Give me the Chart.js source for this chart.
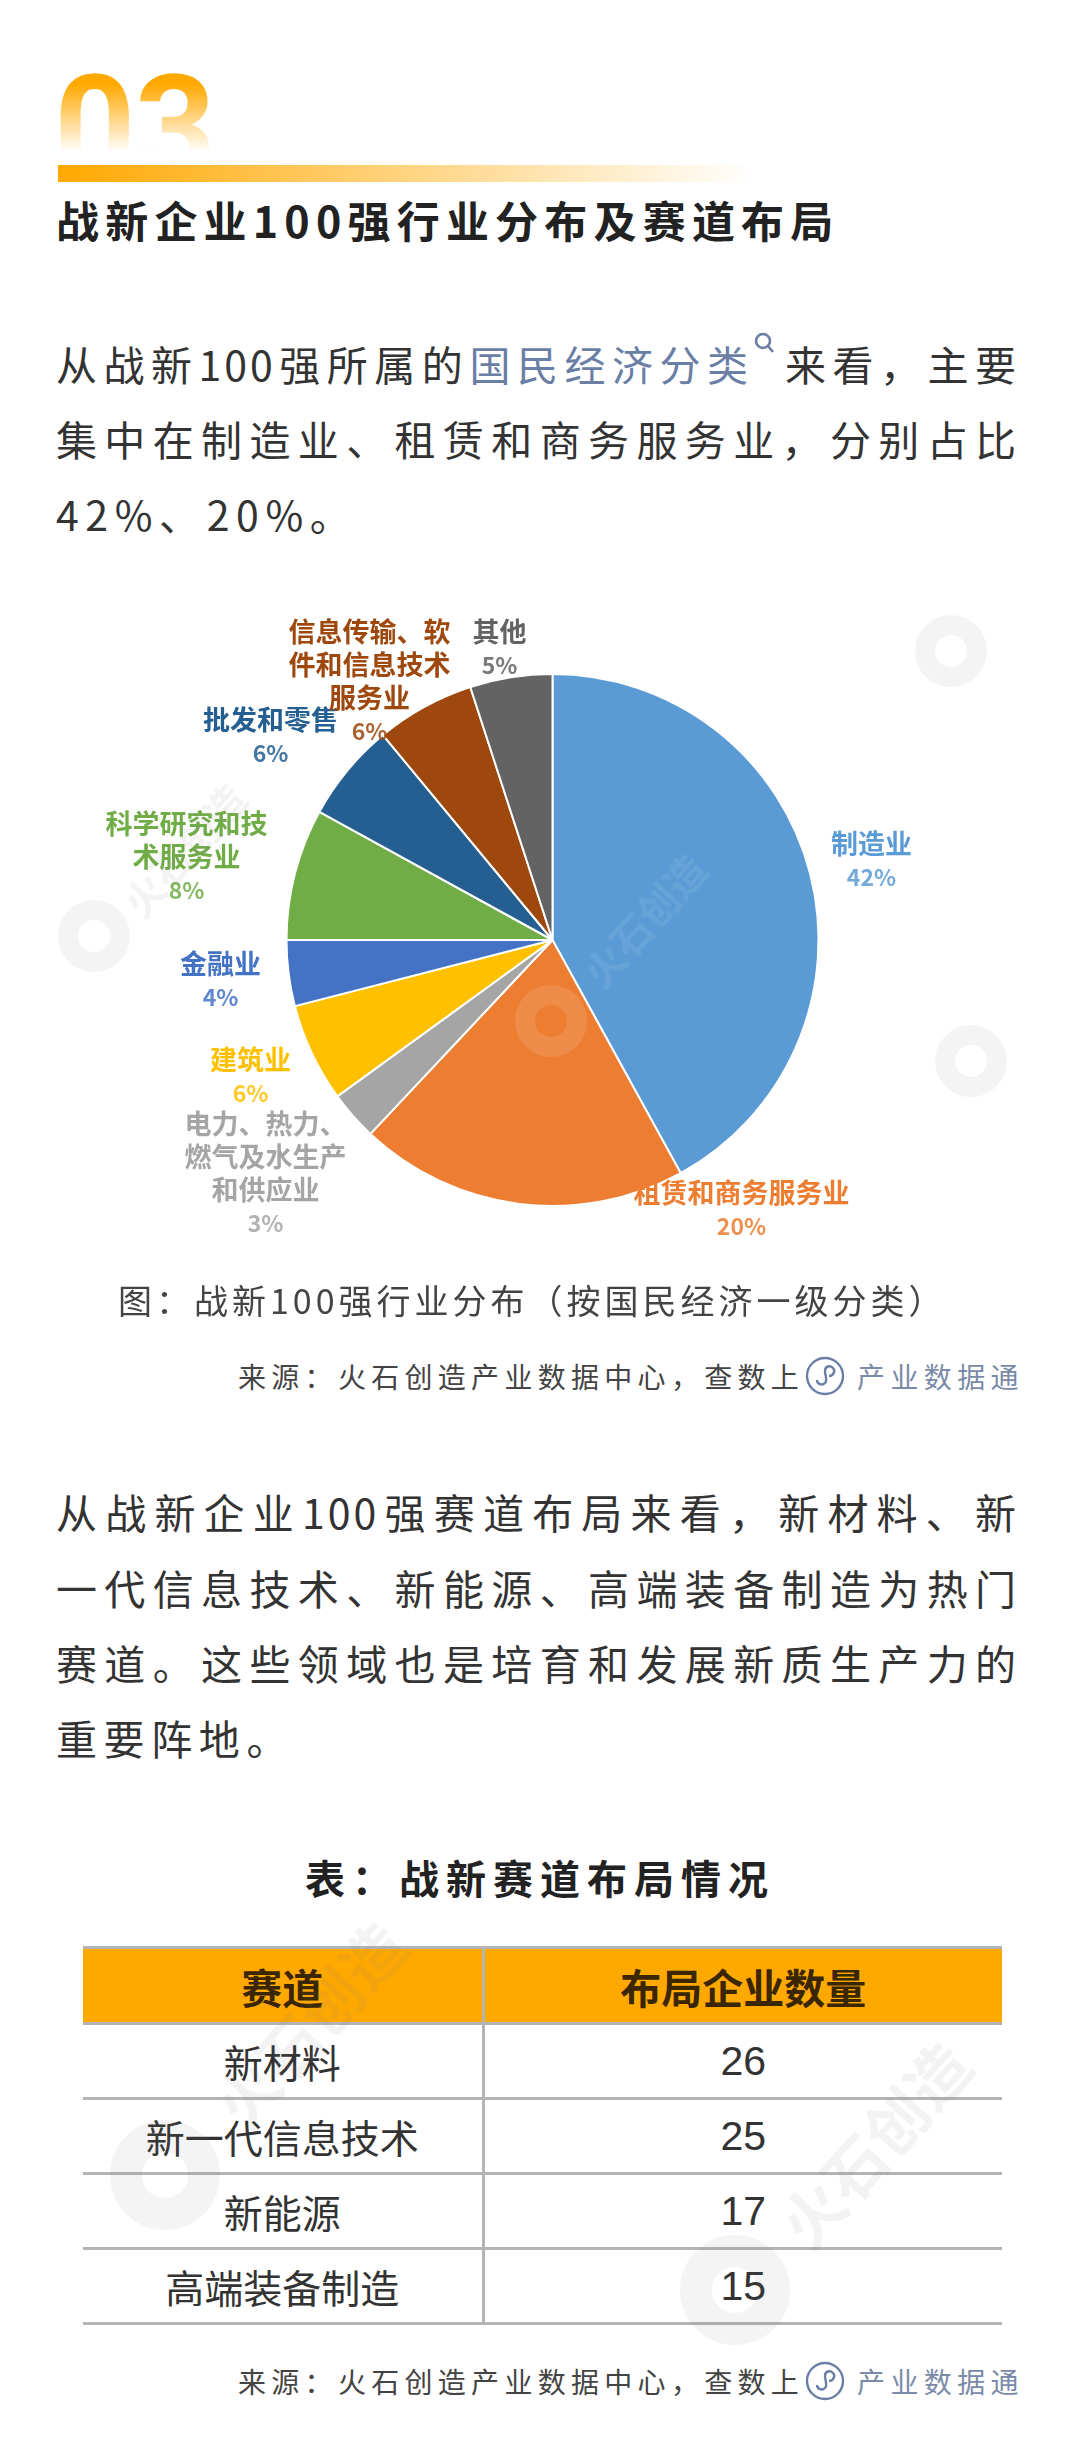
<!DOCTYPE html>
<html lang="zh-CN">
<head>
<meta charset="utf-8">
<title>战新企业100强行业分布及赛道布局</title>
<script src="https://cdn.jsdelivr.net/npm/chart.js@4"></script>
<style>
  html, body { margin: 0; padding: 0; background: #fff; }
  #page { position: relative; width: 1080px; height: 2449px; overflow: hidden; background: #fff;
    font-family: "Noto Sans CJK SC", "Noto Sans", sans-serif; color: #2b2b2b; }
  #page > * { position: absolute; }
  .num { left: 54px; top: 58px; font: 700 142px/142px Roboto, sans-serif; letter-spacing: -1px;
    background: linear-gradient(#ffa800 18%, #ffffff 66%); -webkit-background-clip: text; background-clip: text; color: transparent; }
  .bar { left: 58px; top: 165px; width: 695px; height: 17px; background: linear-gradient(90deg, #ffa800, rgba(255,168,0,0)); }
  .title { left: 56px; top: 189px; font-size: 43px; line-height: 60px; font-weight: 700; letter-spacing: 6.2px; white-space: nowrap; color: #222; }
  .ln { left: 56px; width: 963px; height: 60px; font-size: 41px; line-height: 60px; letter-spacing: 3px;
    text-align: justify; text-align-last: justify; white-space: nowrap; color: #333; }
  .ln.end { text-align-last: left; width: auto; letter-spacing: 6.6px; }
  .link { color: #6a7ea6; }
  .mag { display: inline-block; width: 27px; height: 40px; position: relative; }
  .mag svg { position: absolute; left: -2px; top: -10px; }
  .cap { left: 118px; top: 1270px; font-size: 34px; line-height: 60px; letter-spacing: 4px; white-space: nowrap; color: #444; }
  .src { left: 238px; height: 50px; font-size: 28px; line-height: 50px; letter-spacing: 5.3px; white-space: nowrap; color: #444; }
  .src .ic { position: absolute; left: 567px; top: 5px; }
  .src .nm { position: absolute; left: 619px; top: 0; color: #7a8aa8; letter-spacing: 5.4px; }
  .tt { left: 0; width: 1080px; top: 1847px; text-align: center; font-size: 40px; line-height: 60px; font-weight: 700; letter-spacing: 7px; color: #222; white-space: nowrap; }
  #chart { left: 0; top: 600px; }
  table { left: 83px; top: 1946px; width: 919px; border-collapse: collapse; table-layout: fixed; }
  th, td { text-align: center; padding: 0; height: 72px; border-top: 3px solid #b4b4b4; border-bottom: 3px solid #b4b4b4; line-height: 40px; color: #333; }
  th { background: #ffa800; font-size: 41px; font-weight: 700; color: #3a2600; height: 73px; }
  td { font-size: 39px; }
  td + td, th + th { border-left: 3px solid #b4b4b4; }
  td + td { font-family: "Liberation Sans", sans-serif; font-size: 41px; }
  .wm { color: rgba(120,120,120,.09); font-weight: 700; white-space: nowrap; transform-origin: left center; }
  .blob { border-radius: 50%; border-style: solid; border-color: rgba(120,120,120,.08); box-sizing: border-box; }
</style>
</head>
<body>
<div id="page">
  <div class="num">03</div>
  <div class="bar"></div>
  <div class="title">战新企业100强行业分布及赛道布局</div>

  <div class="ln" style="top:333px">从战新100强所属的<span class="link">国民经济分类</span><span class="mag"><svg width="26" height="26" viewBox="0 0 26 26" fill="none" stroke="#6a7ea6" stroke-width="2.6"><circle cx="11" cy="10" r="7"/><path d="M16 15l5 6"/></svg></span>来看，主要</div>
  <div class="ln" style="top:408px">集中在制造业、租赁和商务服务业，分别占比</div>
  <div class="ln end" style="top:483px">42%、20%。</div>

  <canvas id="chart" width="1080" height="680"></canvas>

  <div class="cap">图：战新100强行业分布（按国民经济一级分类）</div>
  <div class="src" style="top:1351px">来源：火石创造产业数据中心，查数上<svg class="ic" width="40" height="40" viewBox="0 0 40 40" fill="none" stroke="#6a7ea6" stroke-width="2.4"><circle cx="20" cy="20" r="18"/><path d="M12 24c0 4 5 6 8 3s0-7 0-12 5-6 8-3 0 8-4 8"/></svg><span class="nm">产业数据通</span></div>

  <div class="ln" style="top:1481px">从战新企业100强赛道布局来看，新材料、新</div>
  <div class="ln" style="top:1557px">一代信息技术、新能源、高端装备制造为热门</div>
  <div class="ln" style="top:1632px">赛道。这些领域也是培育和发展新质生产力的</div>
  <div class="ln end" style="top:1707px">重要阵地。</div>

  <div class="tt">表：战新赛道布局情况</div>
  <table id="tbl"></table>
  <div class="src" style="top:2356px">来源：火石创造产业数据中心，查数上<svg class="ic" width="40" height="40" viewBox="0 0 40 40" fill="none" stroke="#6a7ea6" stroke-width="2.4"><circle cx="20" cy="20" r="18"/><path d="M12 24c0 4 5 6 8 3s0-7 0-12 5-6 8-3 0 8-4 8"/></svg><span class="nm">产业数据通</span></div>

  <!-- 水印 -->
  <div class="blob" style="left:915px;top:615px;width:72px;height:72px;border-width:20px"></div>
  <div class="blob" style="left:58px;top:900px;width:72px;height:72px;border-width:20px"></div>
  <div class="wm" style="left:130px;top:880px;font-size:40px;transform:rotate(-48deg)">火石创造</div>
  <div class="blob" style="left:515px;top:985px;width:72px;height:72px;border-width:20px;border-color:rgba(255,255,255,.12)"></div>
  <div class="wm" style="left:590px;top:950px;font-size:40px;color:rgba(255,255,255,.08);transform:rotate(-48deg)">火石创造</div>
  <div class="blob" style="left:935px;top:1025px;width:72px;height:72px;border-width:20px"></div>
  <div class="blob" style="left:110px;top:2120px;width:110px;height:110px;border-width:32px"></div>
  <div class="wm" style="left:225px;top:2070px;font-size:62px;transform:rotate(-48deg)">火石创造</div>
  <div class="blob" style="left:680px;top:2235px;width:110px;height:110px;border-width:32px"></div>
  <div class="wm" style="left:790px;top:2190px;font-size:62px;transform:rotate(-48deg)">火石创造</div>
</div>

<script>
const industries = [
  ['制造业'],
  ['租赁和商务服务业'],
  ['电力、热力、', '燃气及水生产', '和供应业'],
  ['建筑业'],
  ['金融业'],
  ['科学研究和技', '术服务业'],
  ['批发和零售'],
  ['信息传输、软', '件和信息技术', '服务业'],
  ['其他']
];
const shares = [42, 20, 3, 6, 4, 8, 6, 6, 5];
const sliceColors = ['#5b9bd5', '#ed7d31', '#a5a5a5', '#ffc000', '#4472c4', '#70ad47', '#255e91', '#9e480e', '#636363'];

const tableHead = ['赛道', '布局企业数量'];
const tracks = ['新材料', '新一代信息技术', '新能源', '高端装备制造'];
const trackCounts = [26, 25, 17, 15];

// 标签首行中心相对圆心的偏移
const labelOffsets = [[319, -96], [189, 253], [-287, 184], [-302, 120], [-332, 24], [-366, -116], [-282, -220], [-183, -308], [-53, -308]];

const pieLabels = {
  id: 'pieLabels',
  afterDatasetsDraw(chart) {
    const ctx = chart.ctx;
    const arcs = chart.getDatasetMeta(0).data;
    ctx.save();
    ctx.textAlign = 'center';
    ctx.textBaseline = 'middle';
    arcs.forEach((arc, i) => {
      const x = arc.x + labelOffsets[i][0];
      let y = arc.y + labelOffsets[i][1];
      ctx.fillStyle = sliceColors[i];
      ctx.font = '700 27px "Noto Sans CJK SC"';
      industries[i].forEach(line => {
        ctx.fillText(line, x, y);
        y += 33;
      });
      ctx.font = '700 23px "Noto Sans CJK SC"';
      ctx.globalAlpha = 0.85;
      ctx.fillText(shares[i] + '%', x, y);
      ctx.globalAlpha = 1;
    });
    ctx.restore();
  }
};

new Chart(document.getElementById('chart'), {
  type: 'pie',
  plugins: [pieLabels],
  data: {
    labels: industries.map(l => l.join('')),
    datasets: [{
      data: shares,
      backgroundColor: sliceColors,
      borderColor: '#ffffff',
      borderWidth: 2,
      radius: 266
    }]
  },
  options: {
    responsive: false,
    animation: false,
    layout: { padding: { left: 25 } },
    plugins: { legend: { display: false }, tooltip: { enabled: false } }
  }
});

// 表格
let rows = '<colgroup><col style="width:400px"><col></colgroup><tr>' + tableHead.map(h => `<th>${h}</th>`).join('') + '</tr>';
tracks.forEach((t, i) => {
  rows += `<tr><td>${t}</td><td>${trackCounts[i]}</td></tr>`;
});
document.getElementById('tbl').innerHTML = rows;
</script>
</body>
</html>
